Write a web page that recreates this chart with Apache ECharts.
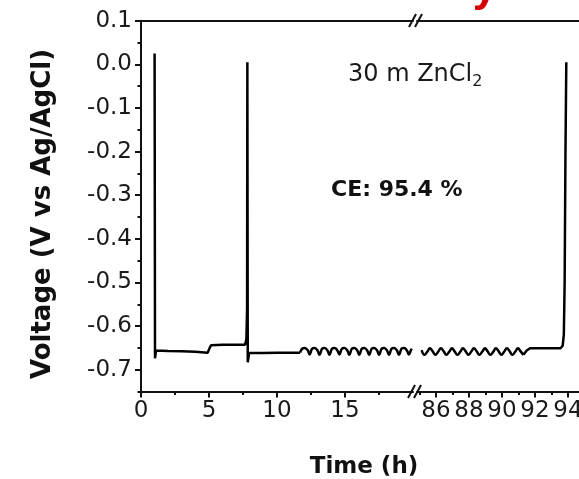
<!DOCTYPE html>
<html><head><meta charset="utf-8">
<script src="https://cdn.jsdelivr.net/npm/echarts@6/dist/echarts.min.js"></script>
<style>html,body{margin:0;padding:0;background:#fff}#c{width:579px;height:479px}</style>
</head><body><div id="c"></div>
<script>
// ---- tick labels ----
const leftTickLabels = [0, 5, 10, 15];
const leftMinorTicks = [2.5, 7.5, 12.5, 17.5];
const rightTickLabelsA = [86, 90, 94];
const rightTickLabelsB = [88, 92];
const rightMinorTicks = [85, 87, 89, 91, 93];
const yTickLabels = [-0.7, -0.6, -0.5, -0.4, -0.3, -0.2, -0.1, 0.0, 0.1];
const yMinorTicks = [-0.75, -0.65, -0.55, -0.45, -0.35, -0.25, -0.15, -0.05, 0.05];

// ---- early part (0-20 h): time (h), voltage (V) ----
const earlyTime = [1.00, 1.03, 1.10, 2.0, 3.0, 4.0, 4.90, 5.05, 5.15, 6.0, 7.0, 7.65, 7.75, 7.80, 7.82, 7.85, 7.95, 9.0, 10.0, 11.0, 11.70];
const earlyVolt = [0.025, -0.674, -0.656, -0.657, -0.658, -0.659, -0.661, -0.650, -0.644, -0.643, -0.643, -0.643, -0.630, -0.560, 0.005, -0.683, -0.662, -0.662, -0.661, -0.661, -0.661];

// early cycling waves
const earlyWaveTime = [11.70, 11.85, 12.05, 12.25, 12.40, 12.58, 12.78, 12.98, 13.13, 13.31, 13.51, 13.71, 13.86, 14.04, 14.24, 14.44, 14.59, 14.77, 14.97, 15.17, 15.32, 15.50, 15.70, 15.90, 16.05, 16.23, 16.43, 16.63, 16.78, 16.96, 17.16, 17.36, 17.51, 17.69, 17.89, 18.09, 18.24, 18.42, 18.62, 18.82, 18.97, 19.15, 19.35, 19.55, 19.70, 19.85, 19.92];
const earlyWaveVolt = [-0.661, -0.652, -0.650, -0.655, -0.665, -0.652, -0.650, -0.656, -0.666, -0.652, -0.650, -0.656, -0.666, -0.652, -0.650, -0.656, -0.665, -0.652, -0.650, -0.656, -0.666, -0.652, -0.650, -0.656, -0.666, -0.652, -0.650, -0.656, -0.666, -0.652, -0.650, -0.656, -0.666, -0.652, -0.650, -0.656, -0.666, -0.652, -0.650, -0.656, -0.666, -0.652, -0.650, -0.656, -0.665, -0.655, -0.652];

// ---- late part (after break) ----
const lateWaveTime = [85.13, 85.30, 85.47, 85.63, 85.80, 85.97, 86.13, 86.30, 86.47, 86.63, 86.80, 86.97, 87.13, 87.30, 87.47, 87.63, 87.80, 87.97, 88.13, 88.30, 88.47, 88.63, 88.80, 88.97, 89.13, 89.30, 89.47, 89.63, 89.80, 89.97, 90.13, 90.30, 90.47, 90.63, 90.80, 90.97, 91.13, 91.30];
const lateWaveVolt = [-0.655, -0.666, -0.659, -0.651, -0.658, -0.666, -0.659, -0.651, -0.658, -0.666, -0.659, -0.651, -0.658, -0.666, -0.659, -0.651, -0.658, -0.666, -0.659, -0.651, -0.658, -0.666, -0.659, -0.651, -0.658, -0.666, -0.659, -0.651, -0.658, -0.666, -0.659, -0.651, -0.658, -0.666, -0.659, -0.651, -0.658, -0.666];
const lateTailTime = [91.30, 91.50, 91.70, 92.5, 93.55, 93.68, 93.75, 93.80, 93.85, 93.90];
const lateTailVolt = [-0.666, -0.656, -0.651, -0.651, -0.651, -0.645, -0.620, -0.500, -0.200, 0.005];

const zip = (a, b) => a.map((v, i) => [v, b[i]]);

const AX = '#111';
const FONT = 'DejaVu Sans';
const G0 = {left: 141, top: 20.7, width: 272, height: 370.8, outerBoundsMode: 'none', containLabel: false};
const G1 = {left: 417, top: 20.7, width: 162, height: 370.8, outerBoundsMode: 'none', containLabel: false};
const LEFT_RANGE = [0, 20];
const RIGHT_RANGE = [84.85, 94.67];
const Y_RANGE = [-0.75, 0.1];

function xMajor(grid, range, vals, showLine) {
  return {type: 'value', gridIndex: grid, position: 'bottom', min: range[0], max: range[1],
    axisLine: {show: showLine, onZero: false, lineStyle: {color: AX, width: 2}},
    axisTick: {show: true, inside: false, length: 6, lineStyle: {color: AX, width: 2}, customValues: vals},
    axisLabel: {show: true, customValues: vals, margin: 8, color: '#1a1a1a', fontFamily: FONT, fontSize: 23,
      hideOverlap: false, showMinLabel: true, showMaxLabel: true},
    splitLine: {show: false}};
}
function xMinor(grid, range, vals) {
  return {type: 'value', gridIndex: grid, position: 'bottom', min: range[0], max: range[1],
    axisLine: {show: false, onZero: false},
    axisTick: {show: true, inside: false, length: 3.5, lineStyle: {color: AX, width: 2}, customValues: vals},
    axisLabel: {show: false}, splitLine: {show: false}};
}
function xTop(grid, range) {
  return {type: 'value', gridIndex: grid, position: 'top', min: range[0], max: range[1],
    axisLine: {show: true, onZero: false, lineStyle: {color: AX, width: 2}},
    axisTick: {show: false}, axisLabel: {show: false}, splitLine: {show: false}};
}

const chart = echarts.init(document.getElementById('c'), null, {renderer: 'canvas'});
const lineStyle = {color: '#000', width: 2.5};

chart.setOption({
  animation: false,
  backgroundColor: '#fff',
  grid: [G0, G1],
  xAxis: [
    xMajor(0, LEFT_RANGE, leftTickLabels, true),
    xMinor(0, LEFT_RANGE, leftMinorTicks),
    xTop(0, LEFT_RANGE),
    xMajor(1, RIGHT_RANGE, rightTickLabelsA, true),
    xMinor(1, RIGHT_RANGE, rightMinorTicks),
    xTop(1, RIGHT_RANGE),
    xMajor(1, RIGHT_RANGE, rightTickLabelsB, false)
  ],
  yAxis: [
    {type: 'value', gridIndex: 0, position: 'left', min: Y_RANGE[0], max: Y_RANGE[1],
      axisLine: {show: true, onZero: false, lineStyle: {color: AX, width: 2}},
      axisTick: {show: true, inside: false, length: 6, lineStyle: {color: AX, width: 2}, customValues: yTickLabels},
      axisLabel: {show: true, customValues: yTickLabels, margin: 9, color: '#1a1a1a', fontFamily: FONT, fontSize: 23,
        hideOverlap: false, showMinLabel: true, showMaxLabel: true, formatter: v => v.toFixed(1)},
      splitLine: {show: false}},
    {type: 'value', gridIndex: 0, position: 'left', min: Y_RANGE[0], max: Y_RANGE[1],
      axisLine: {show: false, onZero: false},
      axisTick: {show: true, inside: false, length: 3.5, lineStyle: {color: AX, width: 2}, customValues: yMinorTicks},
      axisLabel: {show: false}, splitLine: {show: false}},
    {type: 'value', gridIndex: 1, min: Y_RANGE[0], max: Y_RANGE[1], show: false, splitLine: {show: false}}
  ],
  series: [
    {type: 'line', xAxisIndex: 0, yAxisIndex: 0, data: zip(earlyTime, earlyVolt), showSymbol: false, lineStyle},
    {type: 'line', xAxisIndex: 0, yAxisIndex: 0, data: zip(earlyWaveTime, earlyWaveVolt), showSymbol: false, smooth: 0.4, lineStyle},
    {type: 'line', xAxisIndex: 3, yAxisIndex: 2, data: zip(lateWaveTime, lateWaveVolt), showSymbol: false, smooth: 0.4, lineStyle},
    {type: 'line', xAxisIndex: 3, yAxisIndex: 2, data: zip(lateTailTime, lateTailVolt), showSymbol: false, lineStyle}
  ],
  graphic: [
    // axis break marks (bottom)
    {type: 'line', shape: {x1: 408, y1: 398, x2: 415, y2: 385}, style: {stroke: AX, lineWidth: 2}},
    {type: 'line', shape: {x1: 414, y1: 398, x2: 421, y2: 385}, style: {stroke: AX, lineWidth: 2}},
    // axis break marks (top)
    {type: 'line', shape: {x1: 409, y1: 27, x2: 416, y2: 14}, style: {stroke: AX, lineWidth: 2}},
    {type: 'line', shape: {x1: 415, y1: 27, x2: 422, y2: 14}, style: {stroke: AX, lineWidth: 2}},
    // annotations
    {type: 'text', x: 348, y: 75, style: {
      text: '{a|30 m ZnCl}{s|2}', textVerticalAlign: 'middle', textAlign: 'left',
      rich: {a: {fontFamily: FONT, fontSize: 24, fill: '#1a1a1a'},
             s: {fontFamily: FONT, fontSize: 16, fill: '#1a1a1a', verticalAlign: 'bottom', padding: [14, 0, 0, 0]}}}},
    {type: 'text', x: 331, y: 190, style: {text: 'CE: 95.4 %', fontFamily: FONT, fontWeight: 'bold', fontSize: 22,
      fill: '#111', textAlign: 'left', textVerticalAlign: 'middle'}},
    {type: 'text', x: 364, y: 467, style: {text: 'Time (h)', fontFamily: FONT, fontWeight: 'bold', fontSize: 23,
      fill: '#111', textAlign: 'center', textVerticalAlign: 'middle'}},
    {type: 'text', x: 43, y: 214, rotation: Math.PI / 2, style: {text: 'Voltage (V vs Ag/AgCl)', fontFamily: FONT,
      fontWeight: 'bold', fontSize: 26, fill: '#111', textAlign: 'center', textVerticalAlign: 'middle'}},
    // cut-off red heading fragment
    {type: 'text', x: 485, y: 11, style: {text: 'y', fontFamily: 'Liberation Sans', fontWeight: 'bold', fontSize: 44,
      fill: '#d40000', textAlign: 'center', textVerticalAlign: 'bottom'}}
  ]
});
</script>
</body></html>
